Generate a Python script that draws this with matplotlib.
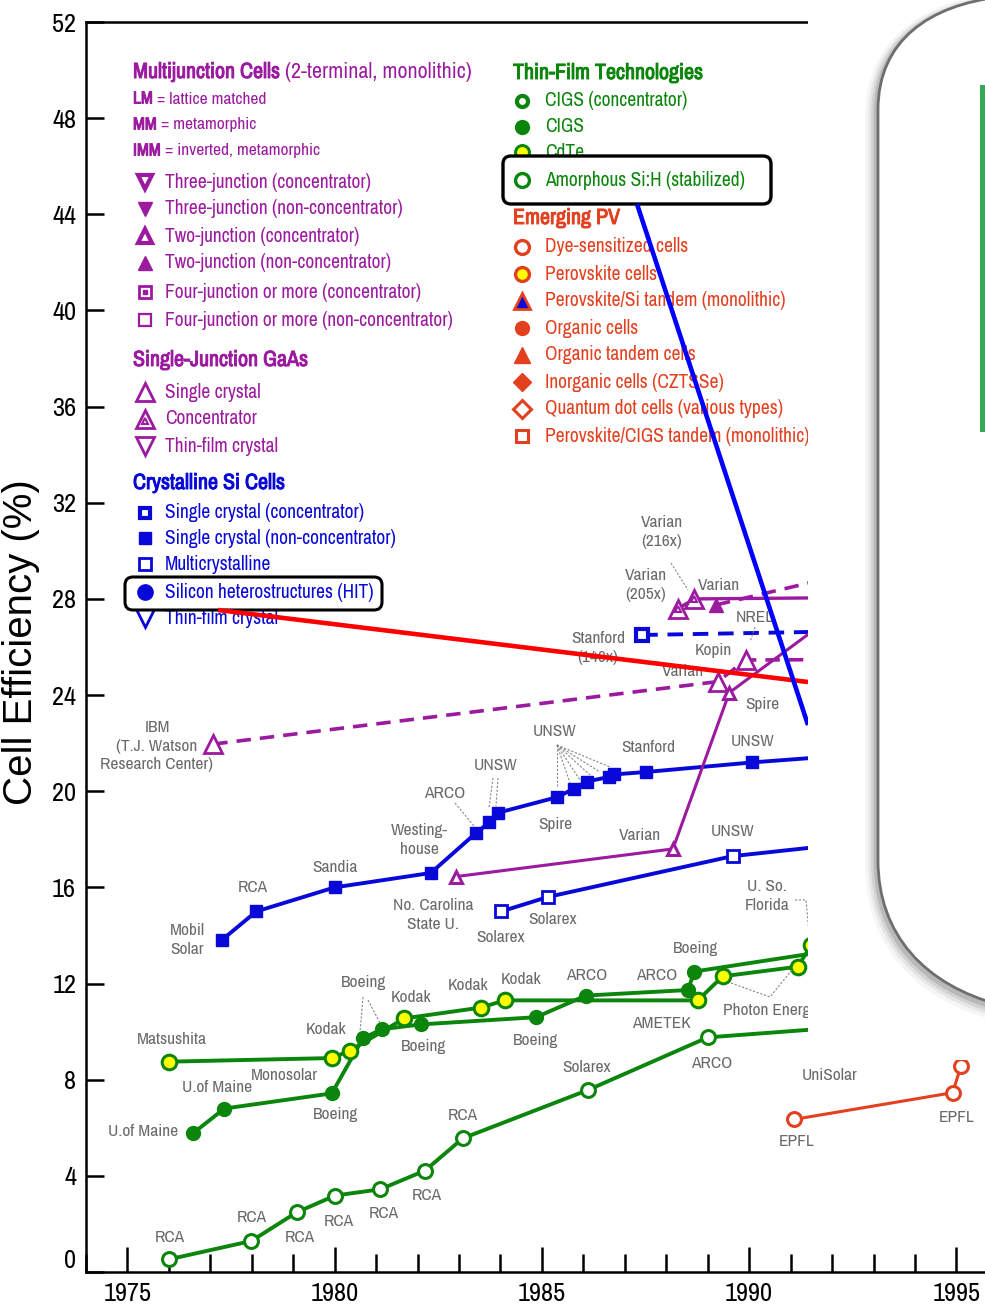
import matplotlib
matplotlib.use("Agg")
import matplotlib.pyplot as plt
import matplotlib.patheffects as pe
from matplotlib.patches import Rectangle, FancyBboxPatch, PathPatch
from matplotlib.path import Path
import numpy as np

NARROW = ["Archivo Narrow", "Liberation Sans", "DejaVu Sans"]
plt.rcParams["font.family"] = NARROW

PURPLE = "#9c1a9f"
BLUE = "#0808d8"
GREEN = "#0b850b"
RED = "#e3401f"
YELLOW = "#ffff00"
GRAY = "#6a6a6a"

# ---- data (year, efficiency %) ----
# crystalline Si
si_sc_yr = [1977.27, 1978.11, 1980.0, 1982.32, 1983.40, 1983.73, 1983.93, 1985.36,
            1985.77, 1986.08, 1986.63, 1986.75, 1987.51, 1990.08, 1995.5]
si_sc_eff = [13.8, 15.0, 16.0, 16.6, 18.25, 18.7, 19.1, 19.75,
             20.1, 20.4, 20.6, 20.7, 20.8, 21.2, 21.9]
si_mc_yr = [1984.02, 1985.14, 1989.60, 1995.5]
si_mc_eff = [15.0, 15.6, 17.3, 18.4]
si_conc_yr = [1987.42, 1995.5]
si_conc_eff = [26.5, 26.75]

# single-junction GaAs
gaas_sc_yr = [1977.07, 1989.24, 1989.92, 1995.5]
gaas_sc_eff = [21.96, 24.56, 25.46, 25.5]
gaas_conc_yr = [1988.28, 1988.68, 1995.5]
gaas_conc_eff = [27.6, 28.0, 28.1]

# multijunction
mj2_conc_yr = [1982.93, 1988.16, 1989.52, 1992.5]
mj2_conc_eff = [16.45, 17.6, 24.1, 27.9]
mj2_yr = [1989.2, 1993.0]
mj2_eff = [27.75, 29.3]

# thin film
cdte_yr = [1976.01, 1979.93, 1980.36, 1981.68, 1983.53, 1984.1, 1988.76, 1989.36,
           1991.17, 1991.5, 1993.5]
cdte_eff = [8.75, 8.9, 9.2, 10.55, 11.0, 11.3, 11.3, 12.3, 12.7, 13.6, 15.8]
cigs_yr = [1976.58, 1977.34, 1979.93, 1980.68, 1981.14, 1982.08, 1984.86, 1986.06,
           1988.52, 1988.68, 1995.5]
cigs_eff = [5.77, 6.8, 7.43, 9.72, 10.1, 10.3, 10.6, 11.5, 11.73, 12.5, 14.3]
asi_yr = [1976.01, 1977.99, 1979.08, 1980.01, 1981.1, 1982.18, 1983.09, 1986.11,
          1989.0, 1995.5]
asi_eff = [0.53, 1.29, 2.48, 3.18, 3.44, 4.22, 5.56, 7.57, 9.76, 10.6]

# emerging PV
dssc_yr = [1991.09, 1994.91, 1995.11, 1995.6]
dssc_eff = [6.35, 7.46, 8.57, 10.2]

W, H = 985, 1309
fig = plt.figure(figsize=(W / 100, H / 100), dpi=100)
ax = fig.add_axes([86 / W, 37 / H, 1 - 86 / W, 1250 / H])
ax.set_xlim(1974.0, 1995.69)
ax.set_ylim(0, 52)

lw = 2.8
ax.plot(si_sc_yr, si_sc_eff, color=BLUE, lw=lw, marker="s", ms=9, mfc=BLUE, mec=BLUE)
ax.plot(si_mc_yr, si_mc_eff, color=BLUE, lw=lw, marker="s", ms=9, mfc="white", mec=BLUE, mew=2)
ax.plot(si_conc_yr, si_conc_eff, color=BLUE, lw=lw, dashes=[4, 2.5], marker="s", ms=8,
        mfc="white", mec=BLUE, mew=3)

ax.plot(gaas_sc_yr, gaas_sc_eff, color=PURPLE, lw=2.6, dashes=[4, 2.5], marker="^", ms=13,
        mfc="white", mec=PURPLE, mew=2)
ax.plot(gaas_conc_yr, gaas_conc_eff, color=PURPLE, lw=2.4, marker="^", ms=13,
        mfc="white", mec=PURPLE, mew=2)
ax.plot(gaas_conc_yr[:2], gaas_conc_eff[:2], ls="none", marker="^", ms=5, mfc="white",
        mec=PURPLE, mew=1.5)
ax.plot(mj2_conc_yr, mj2_conc_eff, color=PURPLE, lw=2.2, marker="^", ms=9,
        mfc="white", mec=PURPLE, mew=2.2)
ax.plot(mj2_yr, mj2_eff, color=PURPLE, lw=2.6, dashes=[4, 2.5], marker="^", ms=10,
        mfc=PURPLE, mec=PURPLE)

ax.plot(asi_yr, asi_eff, color=GREEN, lw=lw, marker="o", ms=10, mfc="white", mec=GREEN, mew=2.2)
ax.plot(cigs_yr, cigs_eff, color=GREEN, lw=lw, marker="o", ms=10, mfc=GREEN, mec=GREEN)
ax.plot(cdte_yr, cdte_eff, color=GREEN, lw=lw, marker="o", ms=10.5, mfc=YELLOW, mec=GREEN, mew=2.2)
ax.plot(dssc_yr, dssc_eff, color=RED, lw=2.2, marker="o", ms=10, mfc="white", mec=RED, mew=2.2)

ax.set_yticks(np.arange(0, 53, 4))
ax.set_xticks(np.arange(1975, 1996, 5))
ax.set_xticks(np.arange(1974, 1996), minor=True)
ax.tick_params(axis="y", which="major", direction="in", length=13, width=1.8,
               labelsize=19, pad=7)
ax.tick_params(axis="x", which="major", direction="in", length=18, width=1.8,
               labelsize=19, pad=7)
ax.tick_params(axis="x", which="minor", direction="in", length=13, width=1.8)
ax.yaxis.get_majorticklabels()[0].set_va("bottom")
for s in ["left", "bottom", "top"]:
    ax.spines[s].set_linewidth(1.8)
ax.spines["right"].set_visible(False)

# ---- overlay in pixel coordinates ----
ov = fig.add_axes([0, 0, 1, 1])
ov.set_xlim(0, W)
ov.set_ylim(H, 0)
ov.axis("off")
ov.patch.set_visible(False)

ov.text(21, 642, "Cell Efficiency (%)", rotation=90, ha="center", va="center",
        fontsize=29, family=["Liberation Sans", "DejaVu Sans"], color="black")

labels = [
    ("RCA", 170, 1237), ("RCA", 252, 1218), ("RCA", 300, 1238), ("RCA", 339, 1222),
    ("RCA", 384, 1214), ("RCA", 427, 1196), ("RCA", 463, 1116),
    ("Solarex", 587, 1068), ("ARCO", 712, 1064),
    ("U.of Maine", 143, 1132), ("U.of Maine", 217, 1088), ("Monosolar", 284, 1076),
    ("Boeing", 336, 1115), ("Matsushita", 172, 1039), ("Kodak", 326, 1029),
    ("Boeing", 363, 983), ("Kodak", 411, 997), ("Boeing", 423, 1046),
    ("Kodak", 468, 986), ("Kodak", 521, 980), ("Boeing", 536, 1040),
    ("ARCO", 587, 975), ("ARCO", 657, 975), ("AMETEK", 661, 1024), ("Boeing", 695, 948),
    ("Solarex", 501, 937), ("Solarex", 553, 920), ("No. Carolina\nState U.", 433, 915),
    ("U. So.\nFlorida", 767, 896), ("UNSW", 733, 831), ("Varian", 640, 835),
    ("Westing-\nhouse", 419, 840), ("ARCO", 445, 793), ("UNSW", 496, 766),
    ("UNSW", 555, 732), ("Spire", 555, 824), ("Stanford", 648, 747), ("UNSW", 753, 742),
    ("Sandia", 335, 867), ("RCA", 253, 888), ("Mobil\nSolar", 187, 940),
    ("IBM\n(T.J. Watson\nResearch Center)", 157, 746),
    ("Varian\n(216x)", 662, 532), ("Varian\n(205x)", 646, 585), ("Varian", 719, 585),
    ("Stanford\n(140x)", 598, 648), ("Kopin", 713, 650), ("Varian", 683, 672),
    ("NREL", 755, 617), ("Spire", 762, 704),
    ("UniSolar", 830, 1075), ("EPFL", 797, 1142), ("EPFL", 957, 1118),
]
for s, x, y in labels:
    ov.text(x, y, s, ha="center", va="center", fontsize=12.5, color=GRAY,
            linespacing=1.3, zorder=2)
ov.text(723, 1010, "Photon Energy", ha="left", va="center", fontsize=12.5, color=GRAY, zorder=2)

leaders = [
    [(363, 997), (360, 1032)], [(368, 1000), (380, 1023)], [(455, 803), (474, 826)],
    [(493, 778), (489, 808)], [(498, 778), (496, 806)],
    [(557, 745), (557, 787)], [(557, 745), (570, 783)], [(557, 745), (580, 780)],
    [(557, 745), (590, 775)], [(557, 745), (600, 772)], [(557, 745), (610, 767)],
    [(671, 563), (688, 590)], [(755, 627), (750, 642)],
    [(795, 900), (806, 900), (810, 943)], [(731, 983), (770, 997), (792, 970)],
]
for seg in leaders:
    xs, ys = zip(*seg)
    ov.plot(xs, ys, color="#888888", lw=0.8, ls=(0, (2, 1.5)), zorder=2)

# ---- legend ----
def head(x, y, bold, rest, color, size=15.5):
    t = ov.text(x, y, bold, ha="left", va="center", fontsize=size, color=color, zorder=2,
                path_effects=[pe.withStroke(linewidth=0.7, foreground=color)])
    if rest:
        ov.annotate(rest, xy=(1, 0.5), xycoords=t, ha="left", va="center",
                    fontsize=size, color=color, zorder=2)


def item(x, y, text, color, z=2, dx=20, **mk):
    ov.plot([x], [y], ls="none", zorder=z + 0.5, **mk)
    ov.text(x + dx, y, text, ha="left", va="center", fontsize=14, color=color, zorder=z)


head(133, 72, "Multijunction Cells", " (2-terminal, monolithic)", PURPLE, 15.8)
head(133, 99, "LM", " = lattice matched", PURPLE, 12.5)
head(133, 125, "MM", " = metamorphic", PURPLE, 12.5)
head(133, 151, "IMM", " = inverted, metamorphic", PURPLE, 12.5)
lx = 145
item(lx, 182, "Three-junction (concentrator)", PURPLE, marker="v", ms=10, mfc="white", mec=PURPLE, mew=3)
item(lx, 209, "Three-junction (non-concentrator)", PURPLE, marker="v", ms=10, mfc=PURPLE, mec=PURPLE)
item(lx, 236, "Two-junction (concentrator)", PURPLE, marker="^", ms=10, mfc="white", mec=PURPLE, mew=3)
item(lx, 263, "Two-junction (non-concentrator)", PURPLE, marker="^", ms=10, mfc=PURPLE, mec=PURPLE)
item(lx, 292, "Four-junction or more (concentrator)", PURPLE, marker="s", ms=9, mfc="white", mec=PURPLE, mew=2)
ov.plot([lx], [292], ls="none", marker="s", ms=3, color=PURPLE, zorder=3)
item(lx, 320, "Four-junction or more (non-concentrator)", PURPLE, marker="s", ms=9, mfc="white", mec=PURPLE, mew=1.6)

head(133, 360, "Single-Junction GaAs", "", PURPLE, 15.8)
item(lx, 392, "Single crystal", PURPLE, marker="^", ms=13, mfc="white", mec=PURPLE, mew=2)
item(lx, 419, "Concentrator", PURPLE, marker="^", ms=13, mfc="white", mec=PURPLE, mew=2)
ov.plot([lx], [421], ls="none", marker="^", ms=5, mfc="white", mec=PURPLE, mew=1.5, zorder=3)
item(lx, 446, "Thin-film crystal", PURPLE, marker="v", ms=13, mfc="white", mec=PURPLE, mew=2)

head(133, 483, "Crystalline Si Cells", "", BLUE, 15.8)
item(lx, 513, "Single crystal (concentrator)", BLUE, marker="s", ms=7.5, mfc="white", mec=BLUE, mew=3)
item(lx, 538, "Single crystal (non-concentrator)", BLUE, marker="s", ms=9, mfc=BLUE, mec=BLUE)
item(lx, 564, "Multicrystalline", BLUE, marker="s", ms=9, mfc="white", mec=BLUE, mew=2)
item(lx, 618, "Thin-film crystal", BLUE, marker="v", ms=13, mfc="white", mec=BLUE, mew=2)
ov.add_patch(FancyBboxPatch((125, 577), 257, 33, boxstyle="round,pad=0,rounding_size=8",
                            fc="white", ec="black", lw=2.2, zorder=3))
item(lx, 592, "Silicon heterostructures (HIT)", BLUE, z=4, marker="o", ms=11, mfc=BLUE, mec=BLUE)

rx = 522
head(513, 73, "Thin-Film Technologies", "", GREEN, 15.8)
item(rx, 101, "CIGS (concentrator)", GREEN, dx=23, marker="o", ms=8, mfc="white", mec=GREEN, mew=3)
item(rx, 127, "CIGS", GREEN, dx=23, marker="o", ms=10, mfc=GREEN, mec=GREEN)
item(rx, 152, "CdTe", GREEN, dx=23, marker="o", ms=10, mfc=YELLOW, mec=GREEN, mew=2.2)
ov.add_patch(FancyBboxPatch((503, 156), 268, 48, boxstyle="round,pad=0,rounding_size=8",
                            fc="white", ec="black", lw=2.4, zorder=3))
item(rx, 180, "Amorphous Si:H (stabilized)", GREEN, z=4, dx=23, marker="o", ms=10,
     mfc="white", mec=GREEN, mew=2.4)

head(513, 218, "Emerging PV", "", RED, 15.8)
item(rx, 247, "Dye-sensitized cells", RED, dx=23, marker="o", ms=10, mfc="white", mec=RED, mew=2.4)
item(rx, 274, "Perovskite cells", RED, dx=23, marker="o", ms=10, mfc=YELLOW, mec=RED, mew=2.4)
item(rx, 301, "Perovskite/Si tandem (monolithic)", RED, dx=23, marker="^", ms=11, mfc=BLUE, mec=RED, mew=2)
item(rx, 328, "Organic cells", RED, dx=23, marker="o", ms=10, mfc=RED, mec=RED)
item(rx, 355, "Organic tandem cells", RED, dx=23, marker="^", ms=11, mfc=RED, mec=RED)
item(rx, 382, "Inorganic cells (CZTSSe)", RED, dx=23, marker="D", ms=9, mfc=RED, mec=RED)
item(rx, 409, "Quantum dot cells (various types)", RED, dx=23, marker="D", ms=9, mfc="white", mec=RED, mew=2.2)
item(rx, 436, "Perovskite/CIGS tandem (monolithic)", RED, dx=23, marker="s", ms=9, mfc="white", mec=RED, mew=2.2)

# callout lines
ov.plot([218, 808], [610, 682], color="#ff0000", lw=3.3, solid_capstyle="butt", zorder=5)
ov.plot([637, 808], [204, 725], color="#0000ff", lw=3.3, solid_capstyle="butt", zorder=5)

# ---- white cover + magnifier callout on the right ----
ov.add_patch(Rectangle((808, -5), 200, 1065, fc="white", ec="none", zorder=6))
verts = [(1000, -3), (930, 5), (878, 40), (878, 110), (878, 860),
         (878, 935), (925, 985), (1000, 1005), (1200, 1005), (1200, -3), (1000, -3)]
codes = [Path.MOVETO, Path.CURVE4, Path.CURVE4, Path.CURVE4, Path.LINETO,
         Path.CURVE4, Path.CURVE4, Path.CURVE4, Path.LINETO, Path.LINETO, Path.CLOSEPOLY]
shape = Path(verts, codes)
for off, w, a in [(6, 14, 0.04), (5, 10, 0.06), (4, 7, 0.08), (3, 4, 0.12)]:
    sh = Path([(vx - off * 0.5, vy + off) for vx, vy in verts], codes)
    ov.add_patch(PathPatch(sh, fc="none", ec="black", lw=w, alpha=a, zorder=6.5))
ov.add_patch(PathPatch(shape, fc="white", ec="#6e6e6e", lw=2.0, zorder=7))
ov.add_patch(Rectangle((980, 85), 8, 347, fc="#35a853", ec="none", zorder=8))

fig.savefig("out.png", dpi=100)
